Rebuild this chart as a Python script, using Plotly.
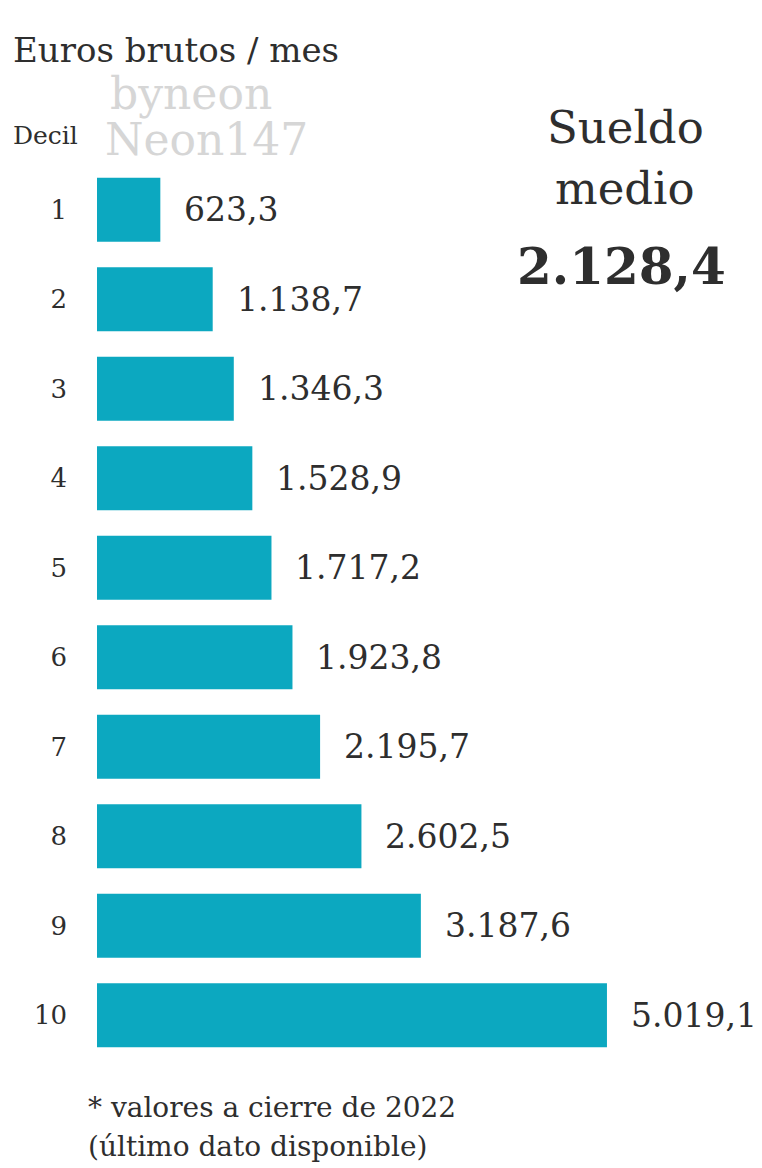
import plotly.graph_objects as go

deciles = [1, 2, 3, 4, 5, 6, 7, 8, 9, 10]
decile_labels = ["1", "2", "3", "4", "5", "6", "7", "8", "9", "10"]
salaries = [623.3, 1138.7, 1346.3, 1528.9, 1717.2, 1923.8, 2195.7, 2602.5, 3187.6, 5019.1]
salary_labels = ["623,3", "1.138,7", "1.346,3", "1.528,9", "1.717,2",
                 "1.923,8", "2.195,7", "2.602,5", "3.187,6", "5.019,1"]
mean_salary_label = "2.128,4"

W, H = 762, 1168
L, R, T, B = 97, 0, 165, 108
PW, PH = W - L - R, H - T - B

FONT = "DejaVu Serif"
TXT = "#2e2e2e"
BAR = "#0ca8c0"


def px(x):
    return (x - L) / PW


def py(y):
    return (H - B - y) / PH


fig = go.Figure(go.Bar(
    x=salaries, y=deciles, orientation="h",
    marker=dict(color=BAR, line=dict(width=0)),
    hoverinfo="skip",
))

ann = []
for v, d, lab in zip(salaries, deciles, salary_labels):
    ann.append(dict(x=v, y=d, xref="x", yref="y", text=lab, showarrow=False,
                    xanchor="left", yanchor="middle", xshift=22,
                    font=dict(family=FONT, size=33, color=TXT)))

def note(text, x, y, size, xanchor="left", color=TXT, bold=False):
    t = f"<b>{text}</b>" if bold else text
    ann.append(dict(x=px(x), y=py(y), xref="paper", yref="paper", text=t,
                    showarrow=False, xanchor=xanchor, yanchor="middle",
                    font=dict(family=FONT, size=size, color=color)))

# watermark
note("byneon", 108, 93, 44, color="#d6d6d6")
note("Neon147", 103, 140, 44, color="#d6d6d6")

note("Euros brutos / mes", 11, 50, 34)
note("Decil", 11, 136, 25)
note("Sueldo", 625, 128, 45, xanchor="center")
note("medio", 625, 188, 45, xanchor="center")
note(mean_salary_label, 621, 266, 50, xanchor="center", bold=True)
note("* valores a cierre de 2022", 86, 1107, 28)
note("(último dato disponible)", 86, 1146, 28)

fig.update_layout(
    width=W, height=H,
    margin=dict(l=L, r=R, t=T, b=B, pad=0),
    paper_bgcolor="white", plot_bgcolor="white",
    showlegend=False,
    bargap=0.284,
    annotations=ann,
    xaxis=dict(range=[0, 6545], visible=False, fixedrange=True),
    yaxis=dict(range=[10.5, 0.5], tickmode="array", tickvals=deciles,
               ticktext=decile_labels, showgrid=False, zeroline=False,
               showline=False, ticks="", ticklabelstandoff=29,
               tickfont=dict(family=FONT, size=26, color=TXT)),
)

fig.write_html("out.html", config={"displayModeBar": False},
               post_script="document.body.style.margin='0';document.body.style.overflow='hidden';")
